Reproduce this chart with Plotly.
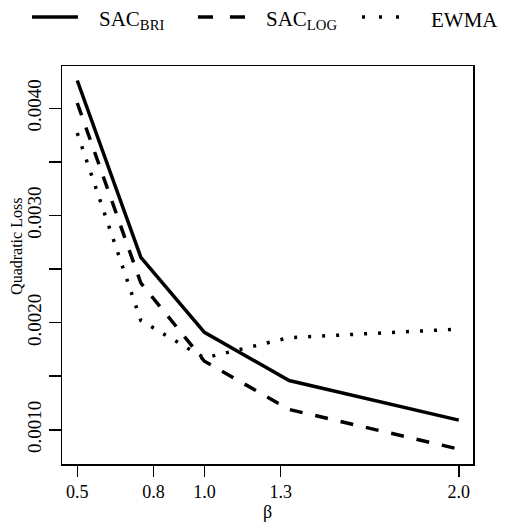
import plotly.graph_objects as go

# ---- data ----
beta = [0.5, 0.75, 1.0, 1.333, 2.0]
sac_bri = [0.00426, 0.00261, 0.00191, 0.00146, 0.00109]
sac_log = [0.00405, 0.00237, 0.00164, 0.00119, 0.00082]
ewma = [0.00377, 0.00202, 0.00167, 0.00186, 0.00194]
series_names = ["SAC<sub>BRI</sub>", "SAC<sub>LOG</sub>", "EWMA"]
x_ticks = [0.5, 0.8, 1.0, 1.3, 2.0]
x_ticktext = ["0.5", "0.8", "1.0", "1.3", "2.0"]
y_ticks = [0.0010, 0.0020, 0.0030, 0.0040]
y_ticktext = ["0.0010", "0.0020", "0.0030", "0.0040"]

W, H = 507, 529
L, R, T, B = 62, 34, 66, 56
FONT = "Liberation Serif"
dashes = ["solid", "13px,13px", "3px,11px"]

fig = go.Figure()
for name, ys, d in zip(series_names, [sac_bri, sac_log, ewma], dashes):
    fig.add_trace(go.Scatter(x=beta, y=ys, mode="lines", name=name,
                             line=dict(color="black", width=3.5, dash=d),
                             showlegend=False))

pw, ph = W - L - R, H - T - B
def px2x(px):
    return (px - L) / pw
def py2y(py):
    return (H - B - py) / ph

# manual legend (line samples + text)
leg = [(32, 78, 98, "left", "solid"),
       (198, 245, 265, "left", "15px,17px"),
       (362, 400, 430, "left", "3px,14px")]
shapes = []
annotations = []
for (x0, x1, xt, anc, ddash), name in zip(leg, series_names):
    shapes.append(dict(type="line", xref="paper", yref="paper",
                       x0=px2x(x0), x1=px2x(x1), y0=py2y(16), y1=py2y(16),
                       line=dict(color="black", width=3.5, dash=ddash)))
    annotations.append(dict(text=name, xref="paper", yref="paper",
                            x=px2x(xt), y=py2y(19), xanchor=anc, yanchor="middle",
                            showarrow=False, borderpad=0,
                            font=dict(family=FONT, size=21, color="black")))

annotations.append(dict(text="Quadratic Loss", xref="paper", yref="paper",
                        x=px2x(17), y=py2y(251), xanchor="center", yanchor="middle",
                        textangle=-90, showarrow=False,
                        font=dict(family=FONT, size=16, color="black")))

fig.update_layout(
    width=W, height=H,
    margin=dict(l=L, r=R, t=T, b=B),
    paper_bgcolor="white", plot_bgcolor="white",
    font=dict(family=FONT, color="black"),
    shapes=shapes, annotations=annotations,
    xaxis=dict(range=[0.44, 2.056], tickvals=x_ticks, ticktext=x_ticktext,
               ticks="outside", ticklen=11, tickwidth=1.5, tickcolor="black",
               showline=True, linecolor="black", linewidth=1.5, mirror=True,
               showgrid=False, zeroline=False,
               tickfont=dict(family=FONT, size=18, color="black"),
               title=dict(text="β", font=dict(family=FONT, size=18, color="black"), standoff=2)),
    yaxis=dict(range=[0.000681, 0.004395], tickvals=y_ticks, ticktext=y_ticktext,
               ticks="outside", ticklen=12, tickwidth=1.5, tickcolor="black",
               minor=dict(tick0=0.001, dtick=0.0005, ticks="outside", ticklen=12,
                          tickwidth=1.5, tickcolor="black", showgrid=False),
               showline=True, linecolor="black", linewidth=1.5, mirror=True,
               showgrid=False, zeroline=False, tickangle=-90,
               tickfont=dict(family=FONT, size=19, color="black")),
)

fig.write_html("out.html",
               config={"displayModeBar": False, "staticPlot": True},
               post_script="document.body.style.margin='0';document.body.style.overflow='hidden';")
